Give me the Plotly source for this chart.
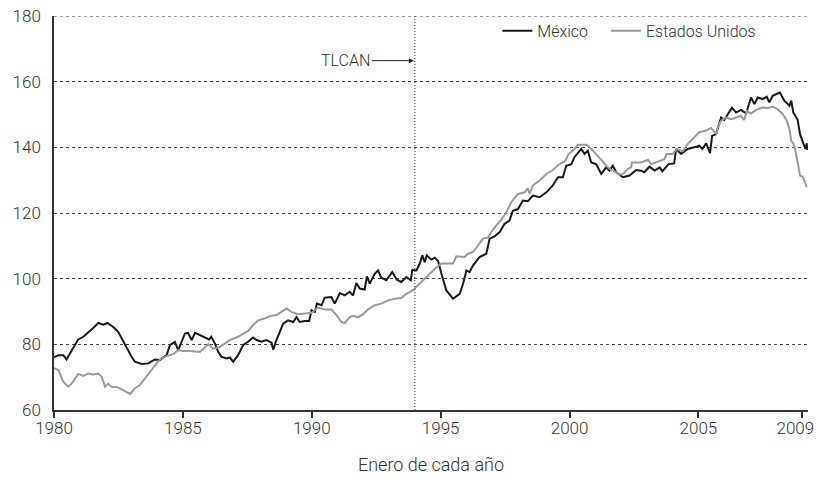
import plotly.graph_objects as go

# Valores (anio decimal, indice)
mx_year = [1980.00, 1980.17, 1980.36, 1980.49, 1980.69, 1980.94, 1981.14, 1981.33, 1981.52, 1981.72,
           1981.91, 1982.07, 1982.30, 1982.49, 1982.69, 1982.82, 1983.01, 1983.14, 1983.40, 1983.66,
           1983.91, 1984.10, 1984.37, 1984.50, 1984.69, 1984.82, 1984.95, 1985.08, 1985.20, 1985.34,
           1985.47, 1985.66, 1985.85, 1986.02, 1986.10, 1986.24, 1986.37, 1986.50, 1986.69, 1986.82,
           1986.95, 1987.14, 1987.34, 1987.53, 1987.72, 1987.86, 1988.05, 1988.24, 1988.44, 1988.50,
           1988.63, 1988.76, 1988.89, 1989.08, 1989.28, 1989.41, 1989.53, 1989.73, 1989.90, 1989.99,
           1990.12, 1990.20, 1990.38, 1990.50, 1990.76, 1990.89, 1991.09, 1991.28, 1991.47, 1991.60,
           1991.73, 1991.86, 1992.05, 1992.14, 1992.25, 1992.44, 1992.57, 1992.70, 1992.89, 1993.12,
           1993.30, 1993.47, 1993.67, 1993.84, 1993.90, 1994.06, 1994.19, 1994.29, 1994.38, 1994.46,
           1994.64, 1994.77, 1994.90, 1995.03, 1995.22, 1995.48, 1995.74, 1995.87, 1996.00, 1996.12,
           1996.25, 1996.51, 1996.77, 1996.90, 1997.09, 1997.29, 1997.48, 1997.67, 1997.80, 1998.00,
           1998.19, 1998.38, 1998.58, 1998.84, 1999.10, 1999.35, 1999.55, 1999.74, 1999.87, 2000.07,
           2000.19, 2000.45, 2000.58, 2000.71, 2000.84, 2001.03, 2001.23, 2001.42, 2001.55, 2001.68,
           2001.81, 2002.07, 2002.33, 2002.58, 2002.78, 2002.90, 2003.10, 2003.30, 2003.50, 2003.60,
           2003.84, 2004.06, 2004.13, 2004.33, 2004.58, 2004.84, 2005.03, 2005.15, 2005.30, 2005.45,
           2005.53, 2005.68, 2005.88, 2006.00, 2006.13, 2006.30, 2006.46, 2006.65, 2006.85, 2007.04,
           2007.17, 2007.30, 2007.49, 2007.65, 2007.75, 2007.88, 2008.07, 2008.16, 2008.33, 2008.53,
           2008.60, 2008.68, 2008.76, 2008.85, 2008.94, 2009.04, 2009.15, 2009.20, 2009.22]
mexico = [76.0, 76.7, 76.7, 75.4, 78.2, 81.5, 82.3, 83.8, 85.0, 86.5,
          86.0, 86.5, 85.3, 83.8, 80.7, 78.7, 76.2, 74.7, 74.0, 74.2,
          75.4, 75.2, 76.7, 79.8, 80.7, 78.2, 80.7, 83.3, 83.5, 81.3,
          83.5, 82.8, 82.1, 81.5, 82.3, 80.3, 77.7, 76.2, 75.7, 76.0,
          74.7, 76.7, 79.8, 80.8, 82.1, 81.3, 80.8, 81.3, 80.5, 78.4,
          81.3, 83.8, 86.3, 87.3, 86.8, 88.3, 86.8, 87.1, 87.1, 90.4,
          89.9, 92.4, 91.9, 94.2, 94.4, 92.4, 95.6, 94.9, 96.0, 94.9,
          98.7, 97.0, 96.7, 100.7, 98.5, 101.5, 102.5, 100.3, 99.5, 102.0,
          99.7, 99.0, 100.5, 99.5, 102.7, 102.5, 104.6, 107.1, 105.0, 107.1,
          105.8, 106.4, 105.4, 101.5, 96.4, 93.9, 95.4, 98.5, 102.5, 102.0,
          104.0, 106.6, 107.6, 112.2, 112.9, 114.2, 116.7, 117.7, 120.7, 121.2,
          123.8, 123.6, 125.3, 124.8, 126.3, 128.4, 130.9, 130.9, 134.4, 134.9,
          137.0, 139.5, 138.0, 139.0, 135.4, 134.9, 131.9, 133.9, 132.9, 134.4,
          132.4, 130.9, 131.4, 133.1, 132.9, 132.4, 134.1, 132.9, 133.9, 132.7,
          134.9, 135.1, 139.5, 138.0, 139.5, 140.0, 140.5, 139.5, 141.2, 138.2,
          143.5, 144.0, 149.1, 148.3, 150.1, 152.1, 150.6, 151.4, 150.3, 155.2,
          153.2, 155.2, 154.7, 155.4, 153.7, 155.7, 156.4, 156.7, 154.2, 152.7,
          154.2, 150.6, 149.6, 148.3, 144.0, 141.5, 139.5, 141.2, 139.2]

us_year = [1980.00, 1980.17, 1980.36, 1980.55, 1980.69, 1980.94, 1981.14, 1981.33, 1981.52, 1981.72,
           1981.85, 1981.98, 1982.10, 1982.24, 1982.49, 1982.69, 1982.95, 1983.14, 1983.33, 1983.53,
           1983.72, 1983.91, 1984.10, 1984.37, 1984.62, 1984.82, 1985.01, 1985.27, 1985.66, 1985.98,
           1986.17, 1986.43, 1986.82, 1987.14, 1987.34, 1987.53, 1987.72, 1987.92, 1988.18, 1988.37,
           1988.63, 1988.82, 1989.02, 1989.21, 1989.47, 1989.73, 1989.99, 1990.24, 1990.50, 1990.76,
           1990.96, 1991.15, 1991.28, 1991.47, 1991.60, 1991.80, 1991.99, 1992.18, 1992.44, 1992.70,
           1992.96, 1993.22, 1993.47, 1993.67, 1993.93, 1994.12, 1994.38, 1994.64, 1994.83, 1995.03,
           1995.48, 1995.61, 1995.93, 1996.06, 1996.25, 1996.45, 1996.64, 1996.83, 1996.96, 1997.16,
           1997.35, 1997.55, 1997.74, 1998.00, 1998.26, 1998.38, 1998.45, 1998.58, 1998.84, 1999.10,
           1999.35, 1999.61, 1999.84, 1999.97, 2000.19, 2000.32, 2000.65, 2000.85, 2001.04, 2001.23,
           2001.42, 2001.61, 2001.81, 2001.94, 2002.07, 2002.26, 2002.39, 2002.42, 2002.78, 2003.04,
           2003.17, 2003.42, 2003.68, 2003.77, 2004.00, 2004.16, 2004.39, 2004.58, 2004.84, 2005.03,
           2005.30, 2005.49, 2005.62, 2005.71, 2005.75, 2005.88, 2006.07, 2006.27, 2006.46, 2006.65,
           2006.78, 2006.87, 2007.04, 2007.24, 2007.49, 2007.69, 2007.89, 2008.07, 2008.27, 2008.42,
           2008.53, 2008.60, 2008.68, 2008.76, 2008.85, 2008.94, 2009.04, 2009.11, 2009.20]
estados_unidos = [72.7, 72.2, 68.6, 67.1, 68.1, 71.0, 70.4, 71.1, 70.8, 71.1,
                  70.1, 67.1, 68.0, 67.1, 66.9, 66.1, 64.9, 66.6, 67.6, 69.6,
                  71.6, 73.7, 75.4, 76.4, 77.0, 78.2, 78.0, 78.0, 77.7, 80.0,
                  78.7, 79.2, 81.3, 82.3, 83.3, 84.1, 85.8, 87.3, 87.9, 88.6,
                  88.9, 89.9, 90.9, 89.9, 89.2, 89.4, 89.6, 91.2, 90.6, 90.6,
                  88.9, 86.8, 86.5, 88.3, 88.6, 88.3, 89.2, 90.6, 91.9, 92.4,
                  93.4, 93.9, 94.1, 95.4, 96.5, 98.0, 100.0, 102.0, 103.4, 104.6,
                  104.6, 106.8, 106.6, 107.6, 108.1, 110.1, 112.2, 112.5, 114.2, 116.2,
                  117.9, 120.2, 123.3, 125.8, 126.3, 127.6, 125.8, 128.4, 129.9, 131.9,
                  133.1, 134.9, 135.9, 138.0, 139.5, 140.8, 140.8, 139.5, 138.0, 136.2,
                  134.4, 133.1, 132.4, 131.7, 131.9, 133.4, 133.9, 135.4, 135.4, 136.2,
                  134.9, 135.7, 136.4, 138.0, 138.0, 139.5, 138.8, 141.0, 143.0, 144.6,
                  145.1, 145.9, 144.6, 144.0, 146.1, 148.1, 149.1, 148.6, 149.1, 149.6,
                  148.3, 151.1, 150.3, 151.4, 152.1, 152.0, 152.4, 151.6, 150.1, 148.3,
                  145.6, 142.0, 141.2, 139.0, 135.4, 131.4, 131.1, 129.9, 127.8]

tick_years = [1980, 1985, 1990, 1995, 2000, 2005, 2009]
y_ticks = [60, 80, 100, 120, 140, 160, 180]
tlcan_year = 1994.0

FONT = "Roboto, Liberation Sans, sans-serif"

# la ultima etiqueta se corre un poco a la izquierda para que no se corte en el borde
tick_text = [str(t) for t in tick_years]
tick_text[-1] = tick_text[-1] + "\u00a0\u00a0\u00a0"

fig = go.Figure()
fig.add_trace(go.Scatter(x=mx_year, y=mexico, name="México", mode="lines",
                         line=dict(color="#1a1a1a", width=2), legend="legend"))
fig.add_trace(go.Scatter(x=us_year, y=estados_unidos, name="Estados Unidos", mode="lines",
                         line=dict(color="#9a9a9a", width=2), legend="legend2"))

# linea punteada superior (180) que plotly no dibuja en el borde
fig.add_shape(type="line", xref="paper", yref="y", x0=0, x1=1, y0=180, y1=180,
              line=dict(color="#444444", width=1, dash="dot"), layer="below")
# linea vertical del TLCAN
fig.add_shape(type="line", xref="x", yref="y", x0=tlcan_year, x1=tlcan_year, y0=60, y1=180,
              line=dict(color="#333333", width=1, dash="1px,2px"))
fig.add_annotation(x=tlcan_year, y=166.4, xref="x", yref="y", text="TLCAN",
                   showarrow=True, ax=-69, ay=0, arrowhead=2, arrowsize=1, arrowwidth=1,
                   arrowcolor="#222222", standoff=1, font=dict(size=16, color="#333333"))

# la pagina deja 8 px de margen alrededor de la figura
fig.update_layout(
    width=816, height=467,
    margin=dict(l=46, r=16, t=7, b=65),
    paper_bgcolor="white", plot_bgcolor="white",
    font=dict(family=FONT, size=16, color="#333333", weight=300),
    showlegend=True,
    legend=dict(orientation="h", x=0.588, y=1.003, xanchor="left", yanchor="top",
                bgcolor="rgba(0,0,0,0)", font=dict(size=16), itemwidth=30),
    legend2=dict(orientation="h", x=0.732, y=1.003, xanchor="left", yanchor="top",
                 bgcolor="rgba(0,0,0,0)", font=dict(size=16), itemwidth=30),
    xaxis=dict(range=[1980, 2009.25], tickvals=tick_years, ticktext=tick_text,
               showgrid=False, zeroline=False, showline=True, linecolor="#333333", linewidth=1.5,
               ticks="outside", ticklen=6, tickcolor="#333333", tickwidth=1.5,
               tickfont=dict(size=17), automargin=False, ticklabeloverflow="allow",
               ticklabelstandoff=-4,
               title=dict(text="Enero de cada año", font=dict(size=18), standoff=21)),
    yaxis=dict(range=[60, 180], tickvals=y_ticks,
               showgrid=True, gridcolor="#444444", griddash="dot", gridwidth=1,
               zeroline=False, showline=True, linecolor="#333333", linewidth=1.5,
               ticks="", tickfont=dict(size=17), ticklabelstandoff=8, automargin=False,
               ticklabeloverflow="allow"),
)

fig.write_html("out.html")
